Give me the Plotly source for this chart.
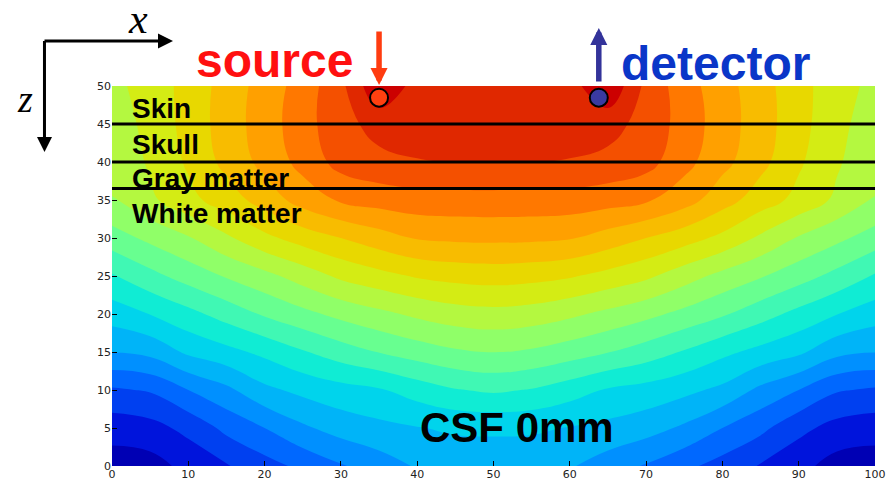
import plotly.graph_objects as go

# ---- data ----
x_mm = [0, 5, 10, 15, 20, 25, 30, 35, 40, 45, 50, 55, 60, 65, 70, 75, 80, 85, 90, 95, 100]
z_mm = [0, 5, 10, 15, 20, 25, 30, 35, 40, 45, 50]

# contour band index (0 = darkest blue ... 19 = dark red), one row per depth
row_z0 = [0.0, 0.1, 0.8, 1.43, 2.1, 2.75, 3.4, 4.0, 4.6, 4.8, 4.9, 4.8, 4.6, 4.0, 3.4, 2.75, 2.1, 1.43, 0.8, 0.1, 0.0]
row_z5 = [0.93, 1.15, 1.78, 2.76, 3.5, 4.33, 4.91, 5.23, 5.45, 5.66, 5.67, 5.66, 5.45, 5.23, 4.91, 4.33, 3.5, 2.76, 1.78, 1.15, 0.93]
row_z10 = [2.36, 2.6, 3.5, 4.26, 5.27, 5.76, 6.13, 6.4, 6.96, 7.44, 7.65, 7.44, 6.96, 6.4, 6.13, 5.76, 5.27, 4.26, 3.5, 2.6, 2.36]
row_z15 = [4.53, 4.78, 5.69, 6.2, 6.74, 7.41, 8.02, 8.54, 8.98, 9.35, 9.53, 9.35, 8.98, 8.54, 8.02, 7.41, 6.74, 6.2, 5.69, 4.78, 4.53]
row_z20 = [5.96, 6.53, 7.2, 7.91, 8.63, 9.22, 9.78, 10.25, 10.7, 11.04, 11.17, 11.04, 10.7, 10.25, 9.78, 9.22, 8.63, 7.91, 7.2, 6.53, 5.96]
row_z25 = [7.39, 8.2, 8.92, 9.59, 10.2, 10.94, 11.7, 12.17, 12.6, 12.83, 12.93, 12.83, 12.6, 12.17, 11.7, 10.94, 10.2, 9.59, 8.92, 8.2, 7.39]
row_z30 = [9.04, 9.74, 10.41, 11.32, 12.25, 12.93, 13.5, 14.07, 14.58, 14.69, 14.72, 14.69, 14.58, 14.07, 13.5, 12.93, 12.25, 11.32, 10.41, 9.74, 9.04]
row_z35 = [10.47, 11.3, 12.2, 13.0, 13.93, 14.93, 15.63, 15.91, 16.08, 16.12, 16.14, 16.12, 16.08, 15.91, 15.63, 14.93, 13.93, 13.0, 12.2, 11.3, 10.47]
row_z40 = [10.75, 11.63, 12.65, 13.8, 14.8, 15.83, 16.87, 17.25, 17.44, 17.52, 17.53, 17.52, 17.44, 17.25, 16.87, 15.83, 14.8, 13.8, 12.65, 11.63, 10.75]
row_z45 = [10.95, 11.8, 12.85, 13.98, 14.99, 16.09, 17.17, 17.85, 18.05, 18.15, 18.15, 18.15, 18.05, 17.85, 17.17, 16.09, 14.99, 13.98, 12.85, 11.8, 10.95]
row_z50 = [11.2, 11.96, 12.83, 13.93, 14.91, 15.95, 17.24, 19.4, 18.1, 18.2, 18.2, 18.2, 18.1, 19.4, 17.24, 15.95, 14.91, 13.93, 12.83, 11.96, 11.2]

band_colors = ['#0000B4', '#0014DC', '#0040F0', '#0068FF', '#0090FF', '#00B4F8', '#00D4EC',
               '#10ECD4', '#40F8B4', '#68FF90', '#90FF68', '#B4F840', '#D4EC14', '#E8D800',
               '#F8BC00', '#FFA000', '#FF7800', '#F45000', '#E02800', '#CC0000']

layer_names = ['Skin', 'Skull', 'Gray matter', 'White matter']
layer_label_z = [47.04, 42.3, 37.83, 33.22]
layer_bounds = [45, 40, 36.5]

source_xz = (35.0, 48.46)
detector_xz = (63.8, 48.46)

xticks = [0, 10, 20, 30, 40, 50, 60, 70, 80, 90, 100]
yticks = [0, 5, 10, 15, 20, 25, 30, 35, 40, 45, 50]

# ---- figure ----
grid = [row_z0, row_z5, row_z10, row_z15, row_z20, row_z25, row_z30,
        row_z35, row_z40, row_z45, row_z50]
n = len(band_colors)
cscale = [[k / (n - 1), c] for k, c in enumerate(band_colors)]

fig = go.Figure()
fig.add_trace(go.Contour(
    x=x_mm, y=z_mm, z=grid,
    colorscale=cscale, showscale=False, autocontour=False,
    contours=dict(start=0.5, end=n - 1.5, size=1, coloring='fill', showlines=False),
    line=dict(width=0, smoothing=1.3), hoverinfo='skip'))

for b in layer_bounds:
    fig.add_trace(go.Scatter(x=[0, 100], y=[b, b], mode='lines',
                             line=dict(color='black', width=3), hoverinfo='skip'))

fig.add_trace(go.Scatter(x=[source_xz[0]], y=[source_xz[1]], mode='markers', cliponaxis=False,
                         marker=dict(size=18, color='#FF4010', line=dict(color='black', width=2))))
fig.add_trace(go.Scatter(x=[detector_xz[0]], y=[detector_xz[1]], mode='markers', cliponaxis=False,
                         marker=dict(size=18, color='#3A3AA0', line=dict(color='black', width=2))))

ann = []
for name, zz in zip(layer_names, layer_label_z):
    ann.append(dict(x=2.3, y=zz, xref='x', yref='y', text=name, showarrow=False,
                    xanchor='left', yanchor='middle',
                    font=dict(family='Liberation Sans', size=28, color='black', weight='bold')))
ann.append(dict(x=53.1, y=5.09, xref='x', yref='y', text='CSF 0mm', showarrow=False,
                xanchor='center', yanchor='middle',
                font=dict(family='Liberation Sans', size=42, color='black', weight='bold')))
ann.append(dict(x=0.213, y=1.0658, xref='paper', yref='paper', text='source', showarrow=False,
                xanchor='center', yanchor='middle',
                font=dict(family='Liberation Sans', size=48, color='#FF1010', weight='bold')))
ann.append(dict(x=0.791, y=1.0605, xref='paper', yref='paper', text='detector', showarrow=False,
                xanchor='center', yanchor='middle',
                font=dict(family='Liberation Sans', size=48, color='#0A36C8', weight='bold')))
# source / detector arrows
ann.append(dict(x=source_xz[0], y=1.0026, xref='x', yref='paper', text='', showarrow=True,
                ax=0, ay=-55, arrowhead=2, arrowsize=0.62, arrowwidth=5.5, arrowcolor='#FF3C10'))
ann.append(dict(x=detector_xz[0], y=1.1526, xref='x', yref='paper', text='', showarrow=True,
                ax=0, ay=55, arrowhead=2, arrowsize=0.62, arrowwidth=5.5, arrowcolor='#33339A'))
# coordinate frame
ann.append(dict(x=0.07995, y=1.1184, xref='paper', yref='paper', text='', showarrow=True,
                ax=-130, ay=0, arrowhead=2, arrowsize=1, arrowwidth=3, arrowcolor='black'))
ann.append(dict(x=-0.0885, y=0.8263, xref='paper', yref='paper', text='', showarrow=True,
                ax=0, ay=-112.5, arrowhead=2, arrowsize=1, arrowwidth=3, arrowcolor='black'))
ann.append(dict(x=0.034, y=1.176, xref='paper', yref='paper', text='x', showarrow=False,
                xanchor='center', yanchor='middle',
                font=dict(family='Liberation Serif', size=42, color='black', style='italic')))
ann.append(dict(x=-0.114, y=0.966, xref='paper', yref='paper', text='z', showarrow=False,
                xanchor='center', yanchor='middle',
                font=dict(family='Liberation Serif', size=38, color='black', style='italic')))

fig.update_layout(
    width=886, height=484, margin=dict(l=112, r=11, t=86, b=18),
    paper_bgcolor='white', plot_bgcolor='white', showlegend=False,
    annotations=ann,
    xaxis=dict(range=[0, 100], tickvals=xticks, ticks='inside', ticklen=5, tickcolor='black',
               showgrid=False, zeroline=False, showline=False, automargin=False,
               tickfont=dict(family='DejaVu Sans', size=11, color='#222')),
    yaxis=dict(range=[0, 50], tickvals=yticks, ticks='inside', ticklen=5, tickcolor='black',
               showgrid=False, zeroline=False, showline=False, automargin=False,
               tickfont=dict(family='DejaVu Sans', size=11, color='#222')),
)
fig.write_html('out.html', config={'displayModeBar': False},
               post_script="document.body.style.margin='0';document.body.style.overflow='hidden';")
